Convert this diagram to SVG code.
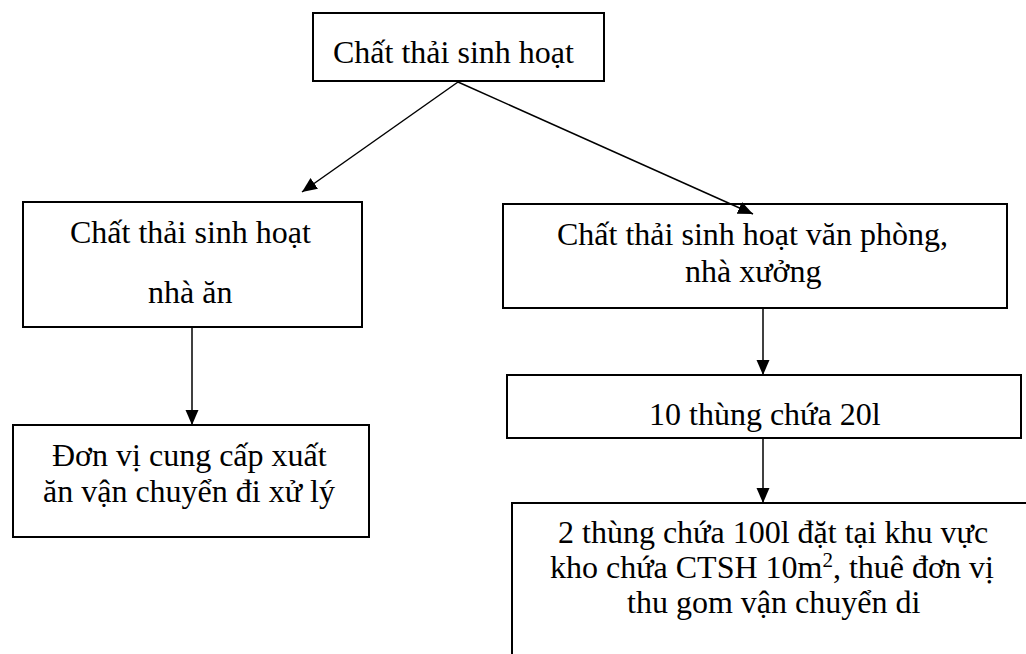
<svg xmlns="http://www.w3.org/2000/svg" width="1026" height="654" viewBox="0 0 1026 654">
  <style>
    .box { fill: #ffffff; stroke: #000000; stroke-width: 2; }
    .t { font-family: 'Liberation Serif', 'Times New Roman', 'DejaVu Serif', serif; font-size: 32px; fill: #000000; }
    .edge { stroke: #000000; stroke-width: 1.5; fill: none; marker-end: url(#arrow); }
  </style>
  <defs>
    <marker id="arrow" markerUnits="userSpaceOnUse" markerWidth="16" markerHeight="14" refX="15" refY="6.5" orient="auto">
      <path d="M0,0 L15,6.5 L0,13 z" fill="#000000"/>
    </marker>
  </defs>
  <rect x="0" y="0" width="1026" height="654" fill="#ffffff"/>

  <g id="node-top">
    <rect class="box" x="313" y="13" width="291" height="68"/>
    <text class="t" font-family="Liberation Serif, serif" x="333" y="63">Chất thải sinh hoạt</text>
  </g>

  <g id="node-left">
    <rect class="box" x="23" y="202" width="339" height="125"/>
    <text class="t" font-family="Liberation Serif, serif" x="70" y="243">Chất thải sinh hoạt</text>
    <text class="t" font-family="Liberation Serif, serif" x="148" y="303">nhà ăn</text>
  </g>

  <g id="node-left-bottom">
    <rect class="box" x="13" y="425" width="356" height="112"/>
    <text class="t" font-family="Liberation Serif, serif" x="52" y="466">Đơn vị cung cấp xuất</text>
    <text class="t" font-family="Liberation Serif, serif" x="43" y="502">ăn vận chuyển đi xử lý</text>
  </g>

  <g id="node-right">
    <rect class="box" x="503" y="204" width="504" height="104"/>
    <text class="t" font-family="Liberation Serif, serif" x="557" y="245">Chất thải sinh hoạt văn phòng,</text>
    <text class="t" font-family="Liberation Serif, serif" x="685" y="282">nhà xưởng</text>
  </g>

  <g id="node-bins">
    <rect class="box" x="507" y="375" width="514" height="63"/>
    <text class="t" font-family="Liberation Serif, serif" x="649" y="425">10 thùng chứa 20l</text>
  </g>

  <g id="node-storage">
    <rect class="box" x="512" y="503" width="600" height="200"/>
    <text class="t" font-family="Liberation Serif, serif" x="558" y="543">2 thùng chứa 100l đặt tại khu vực</text>
    <text class="t" font-family="Liberation Serif, serif" x="550" y="578">kho chứa CTSH 10m<tspan font-size="21" dy="-11">2</tspan><tspan dy="11">, thuê đơn vị</tspan></text>
    <text class="t" font-family="Liberation Serif, serif" x="627" y="613">thu gom vận chuyển di</text>
  </g>

  <g id="connectors">
    <line class="edge" x1="458" y1="82" x2="302" y2="192"/>
    <line class="edge" x1="458" y1="82" x2="753" y2="214"/>
    <line class="edge" x1="192" y1="327" x2="192" y2="425"/>
    <line class="edge" x1="763" y1="308" x2="763" y2="375"/>
    <line class="edge" x1="763" y1="438" x2="763" y2="503"/>
  </g>
</svg>
